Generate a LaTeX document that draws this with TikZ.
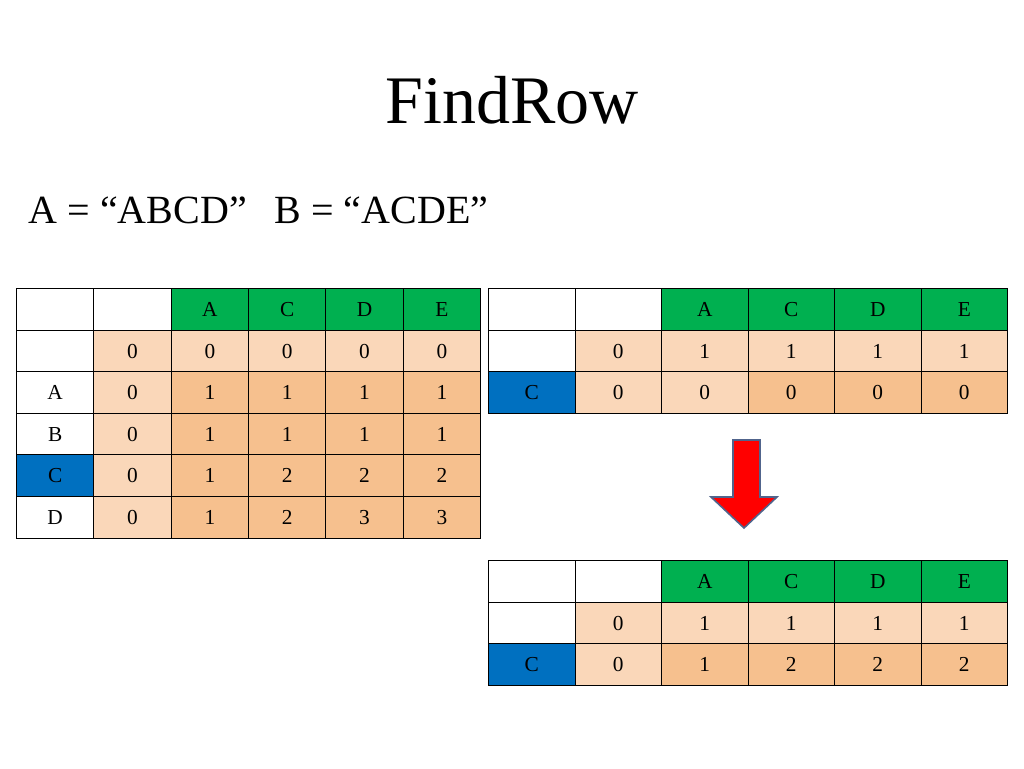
\documentclass[tikz,border=0pt]{standalone}
\usepackage{fontspec}
\setmainfont{Liberation Serif}
\definecolor{hgreen}{RGB}{0,176,80}
\definecolor{lpeach}{RGB}{250,215,185}
\definecolor{dpeach}{RGB}{246,192,142}
\definecolor{cblue}{RGB}{0,112,192}
\definecolor{arrowred}{RGB}{255,0,0}
\definecolor{arrowedge}{RGB}{80,100,140}
\tikzset{
 cell/.style={draw=black, line width=0.8pt, minimum width=#1, minimum height=41.5*0.75pt, inner sep=0pt, font=\fontsize{16}{16}\selectfont, anchor=north west},
 hd/.style={fill=hgreen}, lp/.style={fill=lpeach}, dp/.style={fill=dpeach}, bl/.style={fill=cblue}, wh/.style={fill=white}
}
\begin{document}
\begin{tikzpicture}[x=0.75pt,y=-0.75pt]
\useasboundingbox (0,0) rectangle (1024,768);
\node[font=\fontsize{51}{51}\selectfont] (title) at (512,100) {FindRow};
\node[font=\fontsize{30}{30}\selectfont, anchor=west] (ta) at (24,210) {A = “ABCD”};
\node[font=\fontsize{30}{30}\selectfont, anchor=west] (tb) at (270,210) {B = “ACDE”};
% left table
\foreach \r/\y/\lst in {0/288/{wh/,wh/,hd/A,hd/C,hd/D,hd/E},
  1/330/{wh/,lp/0,lp/0,lp/0,lp/0,lp/0},
  2/371/{wh/A,lp/0,dp/1,dp/1,dp/1,dp/1},
  3/413/{wh/B,lp/0,dp/1,dp/1,dp/1,dp/1},
  4/454/{bl/C,lp/0,dp/1,dp/2,dp/2,dp/2},
  5/496/{wh/D,lp/0,dp/1,dp/2,dp/3,dp/3}}{
  \foreach \s/\t [count=\c from 0] in \lst {
    \pgfmathsetmacro\xx{16+77.33*\c}
    \node[cell=77.33*0.75pt, \s] (L\r\c) at (\xx,\y) {\t};
  }
}
% right top
\foreach \r/\y/\lst in {0/288/{wh/,wh/,hd/A,hd/C,hd/D,hd/E},
  1/330/{wh/,lp/0,lp/1,lp/1,lp/1,lp/1},
  2/371/{bl/C,lp/0,lp/0,dp/0,dp/0,dp/0}}{
  \foreach \s/\t [count=\c from 0] in \lst {
    \pgfmathsetmacro\xx{488+86.5*\c}
    \node[cell=86.5*0.75pt, \s] (T\r\c) at (\xx,\y) {\t};
  }
}
% right bottom
\foreach \r/\y/\lst in {0/560/{wh/,wh/,hd/A,hd/C,hd/D,hd/E},
  1/602/{wh/,lp/0,lp/1,lp/1,lp/1,lp/1},
  2/643/{bl/C,lp/0,dp/1,dp/2,dp/2,dp/2}}{
  \foreach \s/\t [count=\c from 0] in \lst {
    \pgfmathsetmacro\xx{488+86.5*\c}
    \node[cell=86.5*0.75pt, \s] (B\r\c) at (\xx,\y) {\t};
  }
}
\draw[fill=arrowred, draw=arrowedge, line width=1.2pt] (733,440) -- (760,440) -- (760,497) -- (777,497) -- (744,528) -- (711,497) -- (733,497) -- cycle;
\end{tikzpicture}
\end{document}
